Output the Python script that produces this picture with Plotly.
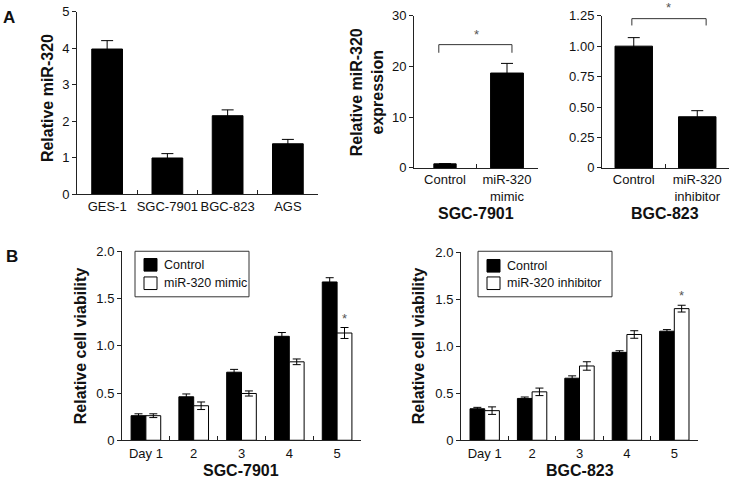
import plotly.graph_objects as go

W, H = 731, 488
FONT = "Arial, 'Liberation Sans', Helvetica, sans-serif"
AX = "#222222"

# ---------------- data ----------------
a1_cells = ["GES-1", "SGC-7901", "BGC-823", "AGS"]
a1_values = [3.98, 0.99, 2.15, 1.38]
a1_errors = [0.23, 0.12, 0.16, 0.12]

a2_groups = ["Control", "miR-320<br>mimic"]
a2_values = [0.8, 18.7]
a2_errors = [0.0, 1.9]

a3_groups = ["Control", "miR-320<br>inhibitor"]
a3_values = [1.00, 0.42]
a3_errors = [0.07, 0.05]

days = ["Day 1", "2", "3", "4", "5"]
b1_control = [0.26, 0.46, 0.72, 1.10, 1.675]
b1_control_err = [0.02, 0.03, 0.03, 0.04, 0.045]
b1_mimic = [0.26, 0.365, 0.495, 0.83, 1.135]
b1_mimic_err = [0.02, 0.04, 0.027, 0.03, 0.058]

b2_control = [0.335, 0.445, 0.66, 0.935, 1.16]
b2_control_err = [0.015, 0.015, 0.025, 0.017, 0.017]
b2_inhib = [0.315, 0.515, 0.79, 1.125, 1.40]
b2_inhib_err = [0.04, 0.04, 0.045, 0.04, 0.036]

a1_ticks = [0, 1, 2, 3, 4, 5]
a2_ticks = [0, 10, 20, 30]
a3_ticks = [0, 0.25, 0.5, 0.75, 1.0, 1.25]
a3_ticktext = ["0", "0.25", "0.50", "0.75", "1.00", "1.25"]
b_ticks = [0, 0.5, 1.0, 1.5, 2.0]
b_ticktext = ["0", "0.5", "1.0", "1.5", "2.0"]


# ---------------- helpers ----------------
def px_x(x):
    return x / W


def px_y(y):
    return 1 - y / H


def dom_x(x0, x1):
    return [px_x(x0), px_x(x1)]


def dom_y(top, bottom):
    return [px_y(bottom), px_y(top)]


def err(arr, w):
    return dict(type="data", array=arr, visible=True, color="#000000", thickness=1, width=w)


fig = go.Figure()

# Panel A1
fig.add_trace(go.Bar(x=a1_cells, y=a1_values, error_y=err(a1_errors, 6), width=0.51,
                     marker=dict(color="#000000", line=dict(color="#000000", width=1)),
                     xaxis="x", yaxis="y", showlegend=False))
# Panel A2
fig.add_trace(go.Bar(x=a2_groups, y=a2_values, error_y=err(a2_errors, 6), width=[0.36, 0.53],
                     marker=dict(color="#000000", line=dict(color="#000000", width=1)),
                     xaxis="x2", yaxis="y2", showlegend=False))
# Panel A3
fig.add_trace(go.Bar(x=a3_groups, y=a3_values, error_y=err(a3_errors, 6), width=0.59,
                     marker=dict(color="#000000", line=dict(color="#000000", width=1)),
                     xaxis="x3", yaxis="y3", showlegend=False))
# Panel B1
fig.add_trace(go.Bar(x=days, y=b1_control, error_y=err(b1_control_err, 4), name="Control",
                     marker=dict(color="#000000", line=dict(color="#000000", width=1)),
                     xaxis="x4", yaxis="y4", showlegend=False, offsetgroup="c"))
fig.add_trace(go.Bar(x=days, y=b1_mimic, error_y=err(b1_mimic_err, 4), name="miR-320 mimic",
                     marker=dict(color="#ffffff", line=dict(color="#000000", width=1)),
                     xaxis="x4", yaxis="y4", showlegend=False, offsetgroup="t"))
# Panel B2
fig.add_trace(go.Bar(x=days, y=b2_control, error_y=err(b2_control_err, 4), name="Control",
                     marker=dict(color="#000000", line=dict(color="#000000", width=1)),
                     xaxis="x5", yaxis="y5", showlegend=False, offsetgroup="c"))
fig.add_trace(go.Bar(x=days, y=b2_inhib, error_y=err(b2_inhib_err, 4), name="miR-320 inhibitor",
                     marker=dict(color="#ffffff", line=dict(color="#000000", width=1)),
                     xaxis="x5", yaxis="y5", showlegend=False, offsetgroup="t"))


def xax(domain, anchor, n, standoff=0):
    return dict(domain=domain, anchor=anchor, type="category", range=[-0.5, n - 0.5],
                showline=True, linecolor=AX, linewidth=1, ticks="inside", ticklen=4,
                tickcolor=AX, tickson="boundaries", showgrid=False, zeroline=False, tickangle=0,
                ticklabelstandoff=standoff,
                tickfont=dict(size=13, color="#111111", family=FONT), fixedrange=True)


def yax(domain, anchor, rng, vals, text):
    return dict(domain=domain, anchor=anchor, range=rng, tickvals=vals, ticktext=text,
                showline=True, linecolor=AX, linewidth=1, ticks="outside", ticklen=4,
                tickcolor=AX, showgrid=False, zeroline=False,
                tickfont=dict(size=13, color="#111111", family=FONT), fixedrange=True)


fig.update_layout(
    width=W, height=H, margin=dict(l=0, r=0, t=0, b=0),
    paper_bgcolor="#ffffff", plot_bgcolor="#ffffff",
    font=dict(family=FONT, color="#111111"),
    barmode="group", bargap=0.38, bargroupgap=0,
    xaxis=xax(dom_x(77, 318), "y", 4),
    yaxis=yax(dom_y(5, 193), "x", [0, 5], a1_ticks, [str(v) for v in a1_ticks]),
    xaxis2=xax(dom_x(414, 538), "y2", 2),
    yaxis2=yax(dom_y(9, 166), "x2", [0, 30], a2_ticks, [str(v) for v in a2_ticks]),
    xaxis3=xax(dom_x(602, 729), "y3", 2),
    yaxis3=yax(dom_y(9, 166), "x3", [0, 1.25], a3_ticks, a3_ticktext),
    xaxis4=xax(dom_x(122, 361), "y4", 5, 1),
    yaxis4=yax(dom_y(252, 447), "x4", [0, 2], b_ticks, b_ticktext),
    xaxis5=xax(dom_x(461, 698), "y5", 5, 1),
    yaxis5=yax(dom_y(253, 447), "x5", [0, 2], b_ticks, b_ticktext),
)

ann = []


def text(x, y, s, size=13, bold=False, angle=0, xanchor="center", yanchor="middle", color="#111111"):
    ann.append(dict(x=px_x(x), y=px_y(y), xref="paper", yref="paper", text=("<b>%s</b>" % s) if bold else s,
                    showarrow=False, textangle=angle, xanchor=xanchor, yanchor=yanchor,
                    font=dict(size=size, family=FONT, color=color)))


# panel letters
text(9, 11, "A", size=17, bold=True)
text(12, 257, "B", size=17, bold=True)
# axis titles
text(47, 94, "Relative miR-320", size=16, bold=True, angle=-90)
text(367, 88, "Relative miR-320<br>expression", size=16, bold=True, angle=-90)
text(80, 350, "Relative cell viability", size=16, bold=True, angle=-90)
text(418, 350, "Relative cell viability", size=16, bold=True, angle=-90)
# subtitles
text(476, 213, "SGC-7901", size=16, bold=True)
text(665, 213, "BGC-823", size=16, bold=True)
text(241, 478.5, "SGC-7901", size=16, bold=True)
text(580, 478.5, "BGC-823", size=16, bold=True)

# significance stars
ann.append(dict(x=0.5, y=24.4, xref="x2", yref="y2", text="*", showarrow=False, yanchor="bottom",
                font=dict(size=13, family=FONT, color="#555555")))
ann.append(dict(x=0.55, y=1.24, xref="x3", yref="y3", text="*", showarrow=False, yanchor="bottom",
                font=dict(size=13, family=FONT, color="#555555")))
ann.append(dict(x=4.155, y=b1_mimic[4] + b1_mimic_err[4], xref="x4", yref="y4", text="*", showarrow=False,
                yanchor="bottom", font=dict(size=13, family=FONT, color="#555555")))
ann.append(dict(x=4.155, y=b2_inhib[4] + b2_inhib_err[4], xref="x5", yref="y5", text="*", showarrow=False,
                yanchor="bottom", font=dict(size=13, family=FONT, color="#555555")))

shapes = []
# brackets
shapes.append(dict(type="path", xref="x2", yref="y2", path="M -0.1,22.7 L -0.1,24.3 L 1.08,24.3 L 1.08,22.7",
                   line=dict(color="#333333", width=1)))
shapes.append(dict(type="path", xref="x3", yref="y3", path="M -0.03,1.17 L -0.03,1.226 L 1.14,1.226 L 1.14,1.17",
                   line=dict(color="#333333", width=1)))


# manual legends
def legend_box(x0, y0, x1, y1, sx, ys, labels):
    shapes.append(dict(type="rect", xref="paper", yref="paper", x0=px_x(x0), x1=px_x(x1), y0=px_y(y1), y1=px_y(y0),
                       line=dict(color="#333333", width=1), fillcolor="#ffffff"))
    fills = ["#000000", "#ffffff"]
    for yy, lab, fc in zip(ys, labels, fills):
        shapes.append(dict(type="rect", xref="paper", yref="paper", x0=px_x(sx), x1=px_x(sx + 13),
                           y0=px_y(yy + 6.5), y1=px_y(yy - 6.5), line=dict(color="#000000", width=1), fillcolor=fc))
        text(sx + 18, yy, lab, size=12.5, xanchor="left")


legend_box(135, 252, 249, 299, 144, [266, 285], ["Control", "miR-320 mimic"])
legend_box(478, 252, 612, 299, 487, [267, 285], ["Control", "miR-320 inhibitor"])

fig.update_layout(annotations=ann, shapes=shapes)
fig.write_html(
    "out.html",
    config={"displayModeBar": False, "staticPlot": True},
    post_script="document.documentElement.style.margin='0';document.documentElement.style.overflow='hidden';"
                "document.body.style.margin='0';document.body.style.padding='0';document.body.style.overflow='hidden';",
)
